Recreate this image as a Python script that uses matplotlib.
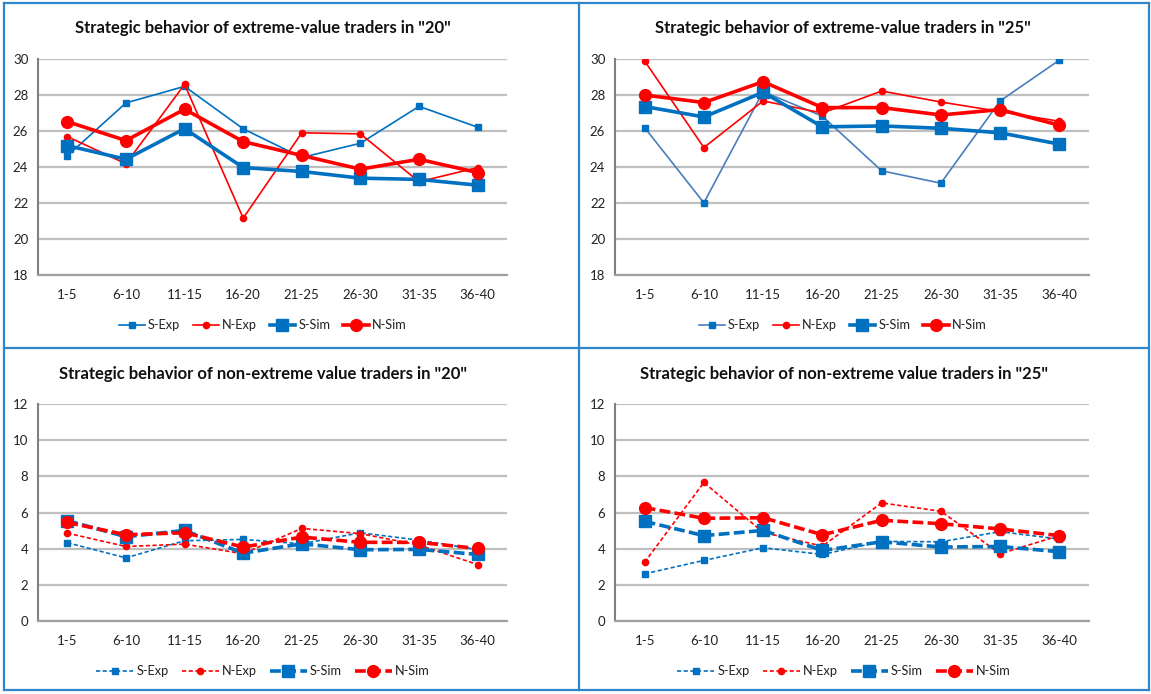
import matplotlib
matplotlib.use("Agg")
import matplotlib.pyplot as plt
from matplotlib.lines import Line2D

plt.rcParams['font.family'] = ['Lato', 'DejaVu Sans']

categories = ["1-5", "6-10", "11-15", "16-20", "21-25", "26-30", "31-35", "36-40"]
series_names = ["S-Exp", "N-Exp", "S-Sim", "N-Sim"]

# Extreme-value traders, "20"
ext20_s_exp = [24.62, 27.56, 28.48, 26.12, 24.53, 25.32, 27.37, 26.21]
ext20_n_exp = [25.69, 24.18, 28.59, 21.16, 25.90, 25.84, 23.18, 23.97]
ext20_s_sim = [25.19, 24.43, 26.13, 23.97, 23.75, 23.38, 23.31, 22.99]
ext20_n_sim = [26.52, 25.47, 27.21, 25.41, 24.64, 23.88, 24.43, 23.69]

# Extreme-value traders, "25"
ext25_s_exp = [26.19, 22.01, 28.19, 26.82, 23.79, 23.10, 27.67, 29.94]
ext25_n_exp = [29.89, 25.08, 27.67, 27.00, 28.22, 27.61, 27.08, 26.54]
ext25_s_sim = [27.36, 26.78, 28.15, 26.23, 26.28, 26.15, 25.90, 25.27]
ext25_n_sim = [28.00, 27.58, 28.74, 27.30, 27.30, 26.89, 27.19, 26.32]

# Non-extreme value traders, "20"
non20_s_exp = [4.33, 3.49, 4.44, 4.51, 4.27, 4.88, 4.47, 3.95]
non20_n_exp = [4.86, 4.12, 4.25, 3.72, 5.12, 4.83, 4.20, 3.12]
non20_s_sim = [5.55, 4.66, 5.01, 3.75, 4.27, 3.94, 3.96, 3.68]
non20_n_sim = [5.45, 4.77, 4.88, 4.09, 4.64, 4.35, 4.35, 4.01]

# Non-extreme value traders, "25"
non25_s_exp = [2.61, 3.35, 4.05, 3.68, 4.40, 4.38, 4.94, 4.53]
non25_n_exp = [3.25, 7.66, 4.90, 4.14, 6.53, 6.07, 3.72, 4.72]
non25_s_sim = [5.51, 4.72, 5.01, 3.90, 4.38, 4.09, 4.12, 3.83]
non25_n_sim = [6.27, 5.68, 5.71, 4.77, 5.57, 5.38, 5.09, 4.72]

titles = ['Strategic behavior of extreme-value traders in "20"',
          'Strategic behavior of extreme-value traders in "25"',
          'Strategic behavior of non-extreme value traders in "20"',
          'Strategic behavior of non-extreme value traders in "25"']

BLUE = '#0070C0'
RED = '#FF0000'
BORDER = '#2F86CB'

W, H = 1151, 694
fig = plt.figure(figsize=(W / 100, H / 100), dpi=100)


def frac(x0, y0, x1, y1):
    return [x0 / W, 1 - y1 / H, (x1 - x0) / W, (y1 - y0) / H]


panels = [
    dict(rect=frac(38, 59, 507, 275), data=[ext20_s_exp, ext20_n_exp, ext20_s_sim, ext20_n_sim],
         ylim=(18, 30), dashed=False, sexp_line=BLUE, cx=263, title_y=28, leg_y=325),
    dict(rect=frac(615, 59, 1089, 275), data=[ext25_s_exp, ext25_n_exp, ext25_s_sim, ext25_n_sim],
         ylim=(18, 30), dashed=False, sexp_line='#4A7EBB', cx=843, title_y=28, leg_y=325),
    dict(rect=frac(38, 404, 507, 621), data=[non20_s_exp, non20_n_exp, non20_s_sim, non20_n_sim],
         ylim=(0, 12), dashed=True, sexp_line=BLUE, cx=263, title_y=374, leg_y=671),
    dict(rect=frac(615, 404, 1089, 621), data=[non25_s_exp, non25_n_exp, non25_s_sim, non25_n_sim],
         ylim=(0, 12), dashed=True, sexp_line=BLUE, cx=844, title_y=374, leg_y=671),
]

x = list(range(len(categories)))
for p, title in zip(panels, titles):
    ax = fig.add_axes(p['rect'])
    s_exp, n_exp, s_sim, n_sim = p['data']
    ls_exp = (0, (2.5, 1.5)) if p['dashed'] else '-'
    ls_sim = (0, (3.0, 1.2)) if p['dashed'] else '-'
    ax.plot(x, s_exp, color=p['sexp_line'], lw=1.2, ls=ls_exp, marker='s', ms=4.5,
            mfc=BLUE, mec=BLUE, label='S-Exp', zorder=3)
    ax.plot(x, n_exp, color=RED, lw=1.2, ls=ls_exp, marker='o', ms=4.5,
            mfc=RED, mec=RED, label='N-Exp', zorder=3)
    ax.plot(x, s_sim, color=BLUE, lw=2.6, ls=ls_sim, marker='s', ms=8.5,
            mfc=BLUE, mec=BLUE, label='S-Sim', zorder=4)
    ax.plot(x, n_sim, color=RED, lw=2.6, ls=ls_sim, marker='o', ms=8.5,
            mfc=RED, mec=RED, label='N-Sim', zorder=5)
    ax.set_xlim(-0.5, len(categories) - 0.5)
    ax.set_ylim(*p['ylim'])
    ax.set_yticks(range(p['ylim'][0], p['ylim'][1] + 1, 2))
    ax.set_xticks(x)
    ax.set_xticklabels(categories)
    ax.tick_params(axis='both', length=0, labelsize=9.5, colors='#222222', pad=10)
    ax.tick_params(axis='y', pad=7)
    ax.grid(axis='y', color='#BFBFBF', lw=1.6)
    ax.set_axisbelow(True)
    for s in ['top', 'right']:
        ax.spines[s].set_visible(False)
    ax.spines['left'].set_color('#808080')
    ax.spines['left'].set_linewidth(1.5)
    ax.spines['bottom'].set_color('#A0A0A0')
    ax.spines['bottom'].set_linewidth(1.6)
    fig.text(p['cx'] / W, 1 - p['title_y'] / H, title, ha='center', va='center',
             fontsize=12, fontweight='bold', color='#111111')
    leg = ax.legend(loc='center', ncol=4, frameon=False, fontsize=9.2,
                    handlelength=2.9 if p['dashed'] else 2.0,
                    columnspacing=1.0, handletextpad=0.25,
                    bbox_to_anchor=(p['cx'] / W, 1 - p['leg_y'] / H),
                    bbox_transform=fig.transFigure)
    for t in leg.get_texts():
        t.set_color('#222222')

# panel borders
for (x0, y0, x1, y1) in [(4, 3, 4, 690), (4, 3, 1149, 3), (579, 3, 579, 690),
                         (4, 348, 1149, 348), (1149, 3, 1149, 690), (4, 690, 1149, 690)]:
    fig.add_artist(Line2D([x0 / W, x1 / W], [1 - y0 / H, 1 - y1 / H], color=BORDER, lw=1.6))

fig.savefig('out.png', dpi=100, facecolor='white')
